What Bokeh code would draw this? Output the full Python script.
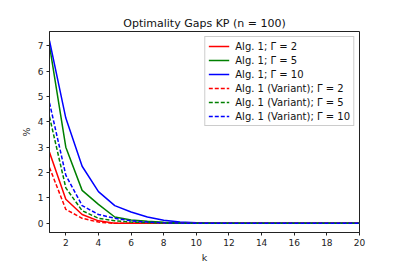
from bokeh.plotting import figure
from bokeh.models import Range1d, FixedTicker, Legend, LegendItem
from bokeh.embed import file_html
from bokeh.resources import INLINE

k = list(range(1, 21))
alg_g2 = [2.8, 0.95, 0.35, 0.1, 0.0, 0, 0, 0, 0, 0, 0, 0, 0, 0, 0, 0, 0, 0, 0, 0]
alg_g5 = [7.0, 3.0, 1.3, 0.75, 0.25, 0.13, 0.08, 0.04, 0.02, 0.01, 0, 0, 0, 0, 0, 0, 0, 0, 0, 0]
alg_g10 = [7.2, 4.15, 2.25, 1.25, 0.7, 0.45, 0.25, 0.12, 0.05, 0.02, 0.01, 0, 0, 0, 0, 0, 0, 0, 0, 0]
var_g2 = [2.2, 0.55, 0.2, 0.05, 0.0, 0, 0, 0, 0, 0, 0, 0, 0, 0, 0, 0, 0, 0, 0, 0]
var_g5 = [4.2, 1.4, 0.5, 0.2, 0.1, 0.05, 0.03, 0.01, 0, 0, 0, 0, 0, 0, 0, 0, 0, 0, 0, 0]
var_g10 = [4.75, 1.9, 0.7, 0.35, 0.2, 0.1, 0.05, 0.02, 0.01, 0, 0, 0, 0, 0, 0, 0, 0, 0, 0, 0]

series = [
    ("Alg. 1; Γ = 2", alg_g2, "#ff0000", "solid"),
    ("Alg. 1; Γ = 5", alg_g5, "#008000", "solid"),
    ("Alg. 1; Γ = 10", alg_g10, "#0000ff", "solid"),
    ("Alg. 1 (Variant); Γ = 2", var_g2, "#ff0000", "4 2"),
    ("Alg. 1 (Variant); Γ = 5", var_g5, "#008000", "4 2"),
    ("Alg. 1 (Variant); Γ = 10", var_g10, "#0000ff", "4 2"),
]

p = figure(width=399, height=266, output_backend="svg", toolbar_location=None,
           x_range=Range1d(1, 20), y_range=Range1d(-0.36, 7.56),
           min_border_left=49, min_border_right=40, min_border_top=31, min_border_bottom=34)

p.title.text = "Optimality Gaps KP (n = 100)"
p.title.align = "center"
p.title.text_font = "DejaVu Sans"
p.title.text_font_size = "11px"
p.title.text_font_style = "normal"
p.title.text_color = "#111111"
p.title.offset = 0
p.title.standoff = 3

items = []
for label, ys, color, dash in series:
    r = p.line(k, ys, line_color=color, line_width=1.5, line_dash=dash)
    items.append(LegendItem(label=label, renderers=[r]))

p.xgrid.visible = False
p.ygrid.visible = False
p.outline_line_color = "#222222"
p.outline_line_width = 1
p.background_fill_color = "white"
p.border_fill_color = "white"

p.xaxis.ticker = FixedTicker(ticks=[2, 4, 6, 8, 10, 12, 14, 16, 18, 20])
p.yaxis.ticker = FixedTicker(ticks=[0, 1, 2, 3, 4, 5, 6, 7])
for ax in (p.xaxis, p.yaxis):
    ax.minor_tick_line_color = None
    ax.major_tick_in = 0
    ax.major_tick_out = 3
    ax.major_tick_line_color = "#222222"
    ax.major_label_text_font = "DejaVu Sans"
    ax.major_label_text_font_size = "9px"
    ax.major_label_text_color = "#222222"
    ax.axis_label_text_font = "DejaVu Sans"
    ax.axis_label_text_font_size = "9.5px"
    ax.axis_label_text_font_style = "normal"
    ax.axis_label_text_color = "#222222"
    ax.axis_line_color = "#222222"
    ax.major_label_standoff = 3
    ax.axis_label_standoff = 3
p.xaxis.axis_label = "k"
p.yaxis.axis_label = "%"

legend = Legend(items=items, location="top_right")
legend.label_text_font = "DejaVu Sans"
legend.label_text_font_size = "10px"
legend.label_text_color = "#111111"
legend.label_height = 12
legend.glyph_height = 12
legend.glyph_width = 21
legend.spacing = 2
legend.padding = 3
legend.margin = 5
legend.label_standoff = 6
legend.border_line_color = "#cccccc"
legend.border_line_alpha = 1
legend.background_fill_alpha = 0.8
p.add_layout(legend)

open("out.html", "w").write(file_html(p, INLINE))
